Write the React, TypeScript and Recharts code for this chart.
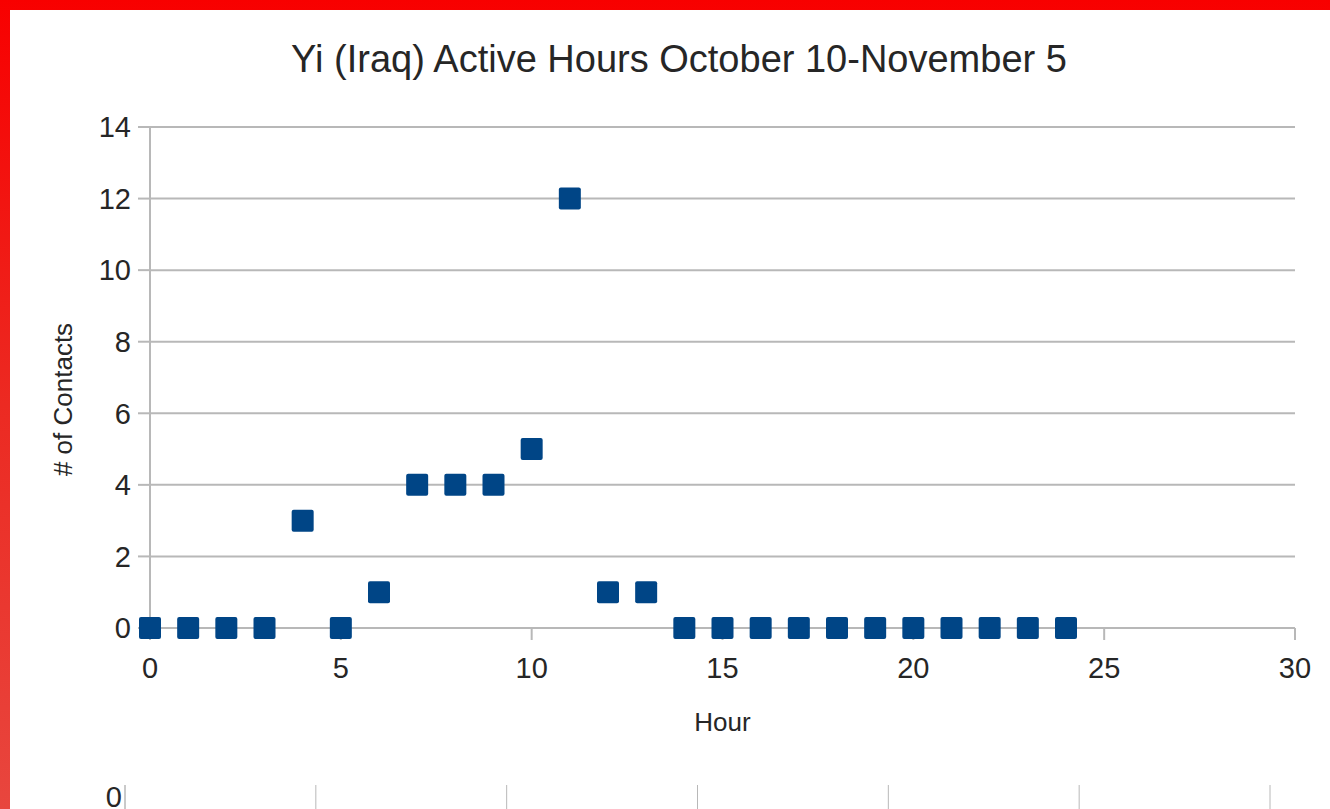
import React from "react";
import {
  ScatterChart,
  Scatter,
  XAxis,
  YAxis,
  CartesianGrid,
} from "recharts";

// hour of day vs number of contacts
const hours = [0, 1, 2, 3, 4, 5, 6, 7, 8, 9, 10, 11, 12, 13, 14, 15, 16, 17, 18, 19, 20, 21, 22, 23, 24];
const contacts = [0, 0, 0, 0, 3, 0, 1, 4, 4, 4, 5, 12, 1, 1, 0, 0, 0, 0, 0, 0, 0, 0, 0, 0, 0];

const xTicks = [0, 5, 10, 15, 20, 25, 30];
const yTicks = [0, 2, 4, 6, 8, 10, 12, 14];

// the next chart on the page, only its top edge is visible
const nextXTicks = [0, 1, 2, 3, 4, 5, 6];
const nextYTicks = [0];

const title = "Yi (Iraq) Active Hours October 10-November 5";

const points = hours.map((h, i) => ({ hour: h, count: contacts[i] }));
const nextPoints = nextXTicks.map((x) => ({ x, y: 10 }));

const font = "'Liberation Sans', Arial, sans-serif";
const gridColor = "#b8b8b8";
const markerColor = "#004586";
const textColor = "#262626";

const SquareMarker = (props: any) => {
  const { cx, cy } = props;
  if (cx == null || cy == null) return null;
  const s = 22;
  return <rect x={cx - s / 2} y={cy - s / 2} width={s} height={s} rx={2} fill={markerColor} />;
};

const NoMarker = () => null;
const NoTick = () => <g />;

// y axis title, a little below the middle of the plot like the original
const YTitle = (props: any) => {
  const vb = props.viewBox || {};
  const x = vb.x + 13;
  const y = vb.y + vb.height / 2 + 22;
  return (
    <text
      x={x}
      y={y}
      transform={`rotate(-90, ${x}, ${y})`}
      textAnchor="middle"
      dominantBaseline="central"
      fill={textColor}
      fontSize={26}
      fontFamily={font}
    >
      # of Contacts
    </text>
  );
};

export default function App() {
  return (
    <div
      style={{
        position: "absolute",
        left: 0,
        top: 0,
        width: 1330,
        height: 809,
        overflow: "hidden",
        background: "linear-gradient(180deg, #f80000 0%, #ec2a22 50%, #e8463e 100%)",
        fontFamily: font,
      }}
    >
      <div
        style={{
          position: "absolute",
          left: 10,
          top: 10,
          width: 1320,
          height: 799,
          background: "#fff",
        }}
      />
      <div
        style={{
          position: "absolute",
          left: 0,
          top: 40,
          width: 1358,
          textAlign: "center",
          fontSize: 38,
          lineHeight: "38px",
          color: textColor,
        }}
      >
        {title}
      </div>

      <div style={{ position: "absolute", left: 0, top: 0 }}>
        <ScatterChart
          width={1330}
          height={760}
          margin={{ top: 127, right: 35, bottom: 22, left: 50 }}
        >
          <CartesianGrid horizontal vertical={false} stroke={gridColor} strokeWidth={2} />
          <XAxis
            type="number"
            dataKey="hour"
            domain={[0, 30]}
            ticks={xTicks}
            height={110}
            tickSize={12}
            tickMargin={17}
            axisLine={{ stroke: gridColor, strokeWidth: 2 }}
            tickLine={{ stroke: gridColor, strokeWidth: 2 }}
            tick={{ fill: textColor, fontSize: 29, fontFamily: font }}
            label={{
              value: "Hour",
              position: "insideBottom",
              offset: 7,
              style: { fill: textColor, fontSize: 26, fontFamily: font },
            }}
          />
          <YAxis
            type="number"
            dataKey="count"
            domain={[0, 14]}
            ticks={yTicks}
            width={100}
            tickSize={12}
            tickMargin={7}
            axisLine={{ stroke: gridColor, strokeWidth: 2 }}
            tickLine={{ stroke: gridColor, strokeWidth: 2 }}
            tick={{ fill: textColor, fontSize: 29, fontFamily: font }}
            label={<YTitle />}
          />
          <YAxis
            yAxisId="edge"
            orientation="right"
            width={0}
            tick={false}
            tickLine={false}
            axisLine={{ stroke: gridColor, strokeWidth: 2 }}
          />
          <Scatter data={points} shape={SquareMarker} isAnimationActive={false} />
        </ScatterChart>
      </div>

      <div style={{ position: "absolute", left: 0, top: 760 }}>
        <ScatterChart width={1330} height={200} margin={{ top: 25, right: 60, bottom: 0, left: 25 }}>
          <CartesianGrid horizontal={false} vertical stroke={gridColor} strokeWidth={1} />
          <XAxis
            type="number"
            dataKey="x"
            domain={[0, 6]}
            ticks={nextXTicks}
            interval={0}
            height={30}
            tick={NoTick}
            tickLine={false}
            axisLine={false}
          />
          <YAxis
            type="number"
            dataKey="y"
            domain={[0, 10]}
            reversed
            ticks={nextYTicks}
            interval={0}
            width={100}
            tickLine={false}
            tickSize={1}
            tickMargin={2}
            axisLine={{ stroke: gridColor, strokeWidth: 1 }}
            tick={{ fill: textColor, fontSize: 29, fontFamily: font, dy: 12 }}
          />
          <Scatter data={nextPoints} shape={NoMarker} isAnimationActive={false} />
        </ScatterChart>
      </div>
    </div>
  );
}
